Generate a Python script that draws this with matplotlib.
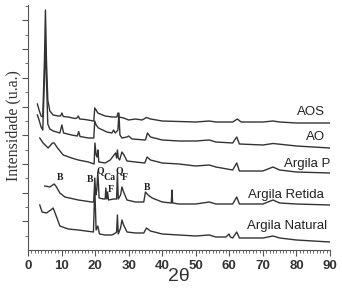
import matplotlib
matplotlib.use("Agg")
import matplotlib.pyplot as plt
import numpy as np

# 2theta / intensity (a.u., offset traces as displayed)
aos_x = [2.8,3.3,3.9,4.4,4.9,5.2,5.5,5.9,6.5,7.5,9.0,9.7,10.1,10.5,12,14,14.6,15.0,15.4,17,19.6,19.9,20.3,20.8,23,25,26.5,26.8,27.1,28.5,30,32,34,35.3,36.5,40,45,50,54,56,61,62.4,63.5,70,73,75,80,90]
aos_y = [146,140,134,133,190,240,190,150,139,135,134,134,137,133.5,133,131.5,132,134,131,130.5,129,142,140,137,134,133,133,137,133,132,130,131,130,132.5,131,129,128.5,128,129,128,128,131,128,128,129,128,127,127]

ao_x = [2.8,3.3,3.9,4.4,4.9,5.2,5.5,5.9,6.5,7.5,9.5,10.1,10.6,13,14.7,15.1,15.5,18,19.6,19.9,20.3,21,23.5,25,25.5,26,26.8,27.1,27.4,28,29.5,30,31,35,35.6,36.5,40,45,50,54,56,61,62.2,63,70,73,80,90]
ao_y = [135,130,123,120,170,210,170,126,121,119,117,125,117,115,114,118.5,113.5,112,112,129,125,122,118,117,120,117,120,137,115,112,113,114,111,110,117,113,110,109,109,110,108,107,113,106,105,106.5,104,102]

ap_x = [3.5,4.5,6,7.3,7.8,8.8,10.5,13,15,18,19.7,19.95,20.3,20.6,20.85,21.1,23,24.5,26.1,26.4,26.65,26.9,27.3,28.0,28.6,29.5,32,34.8,35.5,36.5,40,45,50,54,56,61,62.2,63,70,73,75,80,90]
ap_y = [112,107,102,107,107,102,95,92,90,88,86,107,95,93,100,88,87,90,97,92,100,92,90,98,95,89,88,87,93,90,87,86,84,85,83,80,87,79,79,83,80,78,77]

ar_x = [5.0,6.5,7.8,8.3,9.5,11,15,19,19.6,19.9,20.2,20.5,20.8,21.2,22.5,23.0,23.2,23.5,23.7,24.0,25.5,26.4,26.65,26.9,27.6,28.0,28.5,29.5,32,34.5,35.0,35.8,37,40,42.7,42.9,43.1,45,50,54,56,61,62.2,63,70,73,75,80,90]
ar_y = [64,63,66,64,57,53,50,48,48,72,55,60,78,52,51,51,62,51,58,50,51,51,77,51,55,63,58,50,48,48,58,55,52,48,47,60,47,46,46,48,46,46,53,46,46,50,47,46,45]

an_x = [3.5,4.2,5.5,6.8,7.5,8.3,9.5,12,15,19.5,19.9,20.3,20.8,21.3,23,25,26.1,26.4,26.65,26.9,27.6,28.0,28.5,29.5,32,34.5,35.3,36.5,40,45,50,54,56,59,59.9,60.3,61,62.2,63,70,73,75,80,90]
an_y = [45,38,37,40,42,35,24,21,20,18,62,20,24,16,15,15,17,18,35,16,22,30,25,18,17,17,22,19,16,15,14,15,13,13,16,13,12,18,12,12,14,12,10,8]

series_names = ["AOS", "AO", "Argila P", "Argila Retida", "Argila Natural"]
label_pos = [(88.6, 138), (88.6, 113), (90.1, 86), (88.3, 55), (89.2, 24)]

peak_labels = ["B", "B", "Q", "Ca", "F", "Q", "F", "B"]
peak_pos = [(9.6, 73), (18.6, 71), (21.6, 79), (24.3, 73), (24.8, 61), (27.1, 79), (28.9, 72), (35.4, 63)]

fig = plt.figure(figsize=(3.42, 2.88), dpi=100)
ax = fig.add_axes([28/342, 38/288, (330-28)/342, (250-5)/288])

line_color = "#333333"
for xs, ys in [(aos_x, aos_y), (ao_x, ao_y), (ap_x, ap_y), (ar_x, ar_y), (an_x, an_y)]:
    ax.plot(xs, ys, color=line_color, lw=1.0)

for name, (tx, ty) in zip(series_names, label_pos):
    ax.text(tx, ty, name, ha="right", va="center", fontsize=9.5,
            family="Liberation Sans", color="#222222")

for lab, (tx, ty) in zip(peak_labels, peak_pos):
    ax.text(tx, ty, lab, ha="center", va="center", fontsize=7,
            family="Liberation Serif", fontweight="bold", color="#222222")

ax.set_xlim(0, 90)
ax.set_ylim(0, 245)
ax.set_xticks(np.arange(0, 91, 10))
ax.set_xticks(np.arange(0, 91, 1), minor=True)
ax.set_yticks(np.arange(28.7, 245, 28.7))
ax.set_yticks(np.arange(14.35, 245, 14.35), minor=True)
ax.set_yticklabels([])
for lbl in ax.get_xticklabels():
    lbl.set_family("Liberation Sans")
    lbl.set_fontweight("bold")
ax.tick_params(axis="x", which="major", length=4, width=0.8, labelsize=9.5, colors="#555555", labelcolor="#333333", pad=3)
ax.tick_params(axis="x", which="minor", length=2.5, width=0.6, colors="#555555")
ax.tick_params(axis="y", which="major", length=4, width=0.8, colors="#555555")
ax.tick_params(axis="y", which="minor", length=2, width=0.6, colors="#555555")
ax.spines["top"].set_visible(False)
ax.spines["right"].set_visible(False)
ax.spines["left"].set_color("#555555")
ax.spines["bottom"].set_color("#555555")

ax.set_ylabel("Intensidade (u.a.)", family="Liberation Serif", fontsize=11.5, color="#333333")
ax.yaxis.set_label_coords(-0.023, 0.506)
ax.set_xlabel("2θ", family="Liberation Sans", fontsize=14, color="#333333")
ax.xaxis.set_label_coords(0.5, -0.11)
ax.xaxis.label.set_va("center")

fig.savefig("out.png", dpi=100)
